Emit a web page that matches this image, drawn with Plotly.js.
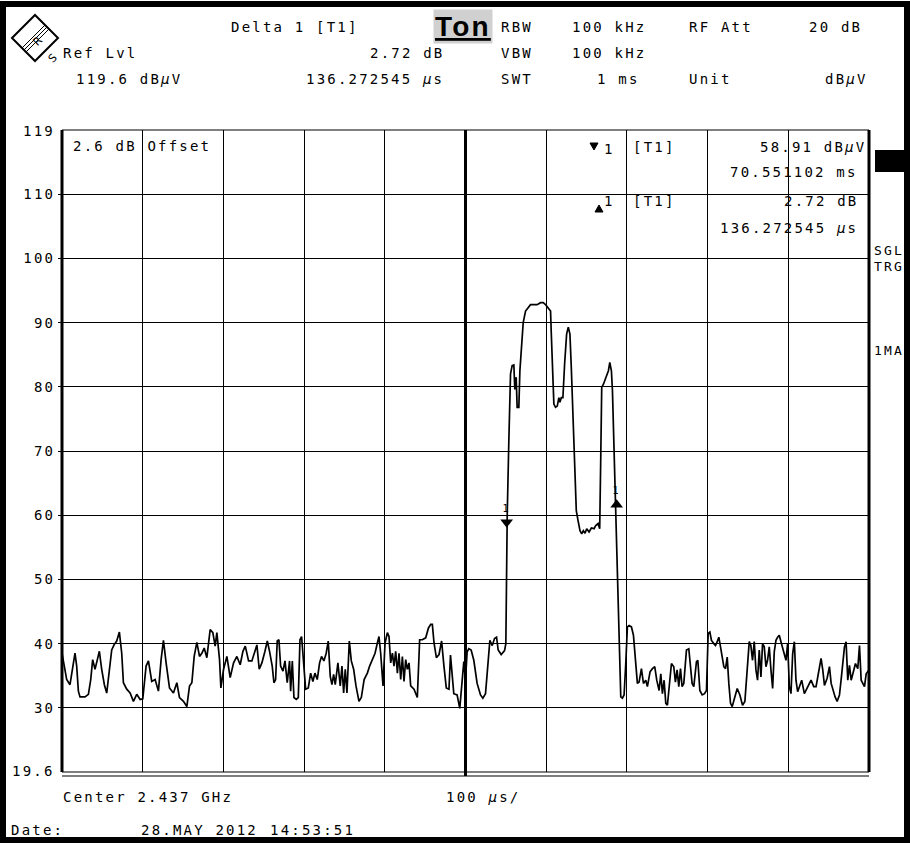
<!DOCTYPE html>
<html><head><meta charset="utf-8">
<script src="https://cdn.plot.ly/plotly-3.0.1.min.js"></script>
<style>
html,body{margin:0;padding:0;background:#fff;}
#chart{width:910px;height:843px;}
svg text{letter-spacing:2.2px;}
</style>
</head><body><div id="chart"></div>
<script>
// ---- data (time in microseconds, level in dBuV) ----
const timeUs = [0,5.8,9.9,14.1,16.1,18.2,20.3,22.3,28.5,32.7,35.6,38.0,40.9,43.8,46.3,49.2,52.5,55.4,58.7,61.6,64.5,67.8,71.1,74.0,76.1,80.2,84.4,88.5,92.6,96.8,100.1,104.2,107.1,111.2,115.4,119.5,122.8,125.7,129.0,133.2,138.1,142.3,145.6,150.5,154.7,158.0,160.9,163.8,167.1,170.4,173.3,176.2,179.5,183.6,186.9,189.8,191.9,195.2,196.9,200.2,204.3,208.4,212.6,216.7,220.8,224.2,227.1,231.2,235.3,239.5,241.5,244.4,247.7,
251.5,254.4,257.2,260.5,262.6,264.7,266.7,268.8,270.9,273.8,276.3,279.1,282.0,283.3,285.4,287.4,290.3,292.8,294.9,296.9,299.4,301.9,305.2,308.1,310.9,313.4,316.3,319.2,321.6,324.5,327.4,329.9,332.4,334.5,336.6,338.6,341.9,344.8,346.9,349.0,351.0,353.1,356.0,358.5,361.4,364.3,368.0,370.9,374.4,378.4,381.2,384.6,387.9,390.8,392.8,394.9,397.8,400.3,403.2,405.2,407.3,409.4,411.4,413.5,415.6,417.6,419.7,421.8,423.8,425.9,427.9,430.0,432.1,436.2,440.3,443.2,446.5,450.7,454.0,456.9,458.9,461.0,463.9,467.2,470.4,473.3,476.2,479.5,
481.4,485.5,489.6,492.9,495.8,497.9,500.0,502.0,504.1,507.0,510.3,514.4,518.6,521.5,524.8,527.7,530.2,533.1,536.0,538.5,540.5,544.2,548.4,550.0,
551.7,553.7,555.8,557.8,559.9,561.1,562.8,564.0,566.1,567.4,569.0,571.5,574.4,578.5,580.6,584.7,588.8,593.0,596.3,599.2,603.3,605.4,606.2,607.5,609.5,611.6,613.7,615.7,617.0,618.7,620.7,622.8,625.3,627.4,629.4,631.1,633.2,635.2,637.3,639.4,641.9,644.0,646.0,648.1,650.2,653.1,656.0,659.3,661.4,664.3,666.3,667.6,668.8,670.9,673.0,675.0,677.1,678.8,680.8,682.1,684.2,686.3,688.3,
690.3,692.4,694.4,696.5,698.6,700.6,702.7,705.6,708.1,711.0,713.0,715.1,718.0,720.5,723.4,725.4,728.7,731.6,734.5,737.0,739.9,742.0,744.0,746.1,748.2,750.2,752.3,755.2,758.1,760.1,762.2,764.3,766.4,768.4,770.5,773.8,776.7,778.8,780.8,782.9,786.2,787.9,790.4,793.3,796.2,798.6,800.7,802.8,804.8,807.7,809.8,811.9,813.9,816.0,818.1,820.1,822.2,824.3,826.3,828.4,830.5,833.4,836.7,840.0,843.3,846.2,849.5,851.6,853.6,855.7,857.8,859.9,861.9,864.0,866.1,868.1,870.2,872.3,874.3,876.4,878.5,880.6,882.6,884.7,886.8,888.8,890.9,893.0,897.1,899.2,901.3,903.3,905.4,907.5,909.5,911.6,913.7,916.6,919.9,922.0,924.9,928.2,931.5,934.4,936.5,938.6,940.6,942.7,944.8,948.1,951.0,953.1,956.4,958.0,960.5,963.4,965.4,967.5,969.6,971.6,973.7,975.8,977.9,981.2,983.2,986.1,988.2,990.3,992.3,994.4,996.5,1000];
const levelDb = [38.5,34.4,33.6,36.7,38.5,36.5,32.6,31.7,31.7,32.1,34.4,37.5,36,37.5,38.8,36,33.6,32.3,36,39,39.8,40.4,41.8,38.5,33.9,32.9,32.3,31,32.1,31.3,31.4,36.5,37.3,34.1,34.4,32.6,37.5,40.5,37,33.1,32.3,33.9,31.6,31,30.2,33.4,33.9,38,40.2,38,38.5,39.3,37.8,42.2,41.7,39.6,41.7,37.5,33.1,36,38,34.7,37,38,36.7,38.8,39.6,37.3,37.3,39.3,39.8,36,37,
38.8,40.4,38.8,36.5,33.9,34.4,40.4,40.6,36.5,35.7,37.3,33.9,37.3,32.6,37.3,31.6,31.3,31.6,40.6,41.1,37,32.9,33.1,35.4,34.1,35.4,34.4,37,38,37.3,38.5,40.4,34.9,33.6,35.2,33.6,37,33.4,36.5,32.3,36,32.3,40.4,37.3,36,33.4,31,31.6,34.4,35.4,36.5,37.5,38.5,40.1,41.1,38.5,33.4,40.1,41.7,41.1,37,38.5,36.5,38.8,35.4,38.5,34.4,38,34.1,37.5,36,37,33.4,32.9,31.6,40.6,40.6,40.9,42.4,43,43,40.1,37.8,38.3,40.4,36.5,33.1,32.9,
38.2,32.2,32,29.9,34.8,37.2,34.3,38.7,39.2,39,37.4,33.8,32,31.5,32.2,36.9,40.5,39.7,40.8,41,39,38.3,38.9,40,
60,71.6,82,83.3,83.4,79.6,81.5,76.8,76.8,82.5,86.1,90,91.8,92.6,92.8,92.8,92.8,93.1,93.1,92.8,92.1,91.8,88.7,84.6,77.3,76.8,77,78.3,77.6,78.3,78.3,83.5,88.2,89.3,88.2,83,74.2,66.9,60.7,59.2,57.6,57.1,57.6,57.2,57.9,57.4,58,57.9,58.4,58.7,57.9,69,79.9,80.4,81.2,81.7,82.5,83.8,82.5,79.4,70,60,52,
39.5,31.7,31.5,32,36.9,42.6,42.8,42.6,41.3,36.4,33.8,34,36.1,33.8,34.3,33.3,35.6,36.1,36.4,34.3,32.7,35.3,32.2,34.3,30.7,30.4,33,36.9,36.4,34,35.9,33.3,36.1,33.3,33.8,39,39.2,36.9,33.8,33.3,37.2,37.4,32.7,32,32.2,32.7,41.6,41.8,40.5,40,39.7,40.3,41,39.5,38.2,36.4,36.1,37.9,33.8,30.7,30.2,31.5,33,32,30.4,31,36.4,40.3,39.7,37.4,40.3,35.9,34.3,39,34.8,40,39.5,36.4,37.4,39.5,35.9,33,38.7,40.5,41,41.3,40.3,39.2,37.4,40,33.3,32.2,38.4,40.3,34.3,32.5,33.3,34.3,32.2,32.7,33.3,34.3,33.3,33.3,34.8,36.1,37.7,35.9,33.5,34.6,36.4,33.8,32.2,31.7,31,32,34.3,37.4,39.5,40.3,34.3,36.6,34.3,35.9,36.9,36.1,39.7,34.3,33.8,33.3,35.3,35.9];
const markerTimeUs = [551.0, 687.3];
const markerLevelDb = [58.91, 61.63];
const markerSymbols = ['triangle-down', 'triangle-up'];
const markerLabels = ['1', '1'];
const yTickVals = [30, 40, 50, 60, 70, 80, 90, 100, 110];
const yTickText = ['30', '40', '50', '60', '70', '80', '90', '100', '110'];

// ---- layout helpers: pixel -> paper ----
const L = 62, R = 869, T = 130, B = 772;
const PX = p => (p - L) / (R - L);
const PY = p => (B - p) / (B - T);
const MONO = 'DejaVu Sans Mono';
const f = (s) => ({family: MONO, size: s || 14, color: '#000'});

function ann(text, px, py, anchor, size) {
  return {text: text, xref: 'paper', yref: 'paper', x: PX(px), y: PY(py),
    xanchor: anchor || 'left', yanchor: 'middle', showarrow: false, font: f(size)};
}

const annotations = [
  // title
  {text: '<b><u>Ton</u></b>', xref: 'paper', yref: 'paper', x: PX(463), y: PY(27),
   xanchor: 'center', yanchor: 'middle', showarrow: false, bgcolor: '#d0d0d0',
   borderpad: 1, font: {family: 'Liberation Sans', size: 28, color: '#000'}},
  // header row 1
  ann('Delta 1 [T1]', 229, 27), ann('RBW', 499, 27), ann('100 kHz', 570, 27),
  ann('RF Att', 687, 27), ann('20 dB', 864, 27, 'right'),
  // header row 2
  ann('Ref Lvl', 61, 53), ann('2.72 dB', 446, 53, 'right'), ann('VBW', 499, 53), ann('100 kHz', 570, 53),
  // header row 3
  ann('119.6 dB<i>µ</i>V', 74, 79), ann('136.272545 <i>µ</i>s', 446, 79, 'right'), ann('SWT', 499, 79),
  ann('1 ms', 642, 79, 'right'), ann('Unit', 687, 79), ann('dB<i>µ</i>V', 870, 79, 'right'),
  // y extreme labels
  ann('119', 57, 131, 'right'), ann('19.6', 57, 771, 'right'),
  // inside plot
  ann('2.6 dB Offset', 71, 146),
  ann('1', 602, 149), ann('[T1]', 631, 147),
  ann('58.91 dB<i>µ</i>V', 868, 147, 'right'),
  ann('70.551102 ms', 860, 172, 'right'),
  ann('1', 602, 201), ann('[T1]', 631, 201), ann('2.72 dB', 860, 201, 'right'),
  ann('136.272545 <i>µ</i>s', 860, 228, 'right'),
  // right strip
  ann('SGL', 889, 250, 'center', 13), ann('TRG', 889, 266, 'center', 13), ann('1MA', 889, 350, 'center', 13),
  // bottom
  ann('Center 2.437 GHz', 61, 797), ann('100 <i>µ</i>s/', 444, 797),
  ann('Date:', 9, 830), ann('28.MAY 2012', 139, 830), ann('14:53:51', 268, 830)
];

const line = (x0, y0, x1, y1, w) => ({type: 'line', xref: 'paper', yref: 'paper',
  x0: x0, y0: y0, x1: x1, y1: y1, line: {color: '#000', width: w}});
const tri = (pts) => ({type: 'path', xref: 'paper', yref: 'paper',
  path: 'M ' + pts.map(p => PX(p[0]) + ' ' + PY(p[1])).join(' L ') + ' Z',
  line: {color: '#000', width: 1}, fillcolor: '#000'});

const shapes = [
  // outer frame
  {type: 'rect', xref: 'paper', yref: 'paper', x0: PX(3), x1: PX(907), y0: PY(840), y1: PY(4),
   line: {color: '#000', width: 6}},
  // plot frame
  line(0, 0, 0, 1, 3), line(1, 0, 1, 1, 3), line(0, 1, 1, 1, 1),
  line(0, 0, 1, 0, 1.2), line(0, PY(776), 1, PY(776), 1.2),
  // centre line
  {type: 'line', xref: 'x', yref: 'paper', x0: 500, x1: 500, y0: PY(776), y1: 1, line: {color: '#000', width: 3}},
  // marker table triangles
  tri([[590, 143], [598, 143], [594, 150]]),
  tri([[595, 212], [603, 212], [599, 205]]),
  // R&S logo
  {type: 'path', xref: 'paper', yref: 'paper',
   path: `M ${PX(12)} ${PY(38)} L ${PX(35)} ${PY(15)} L ${PX(58)} ${PY(38)} L ${PX(35)} ${PY(61)} Z`,
   line: {color: '#000', width: 2}, fillcolor: '#fff'},
  line(PX(22), PY(48), PX(45), PY(25), 1), line(PX(24), PY(50), PX(47), PY(27), 1),
  line(PX(26), PY(52), PX(49), PY(29), 1),
  // black box on the right
  {type: 'rect', xref: 'paper', yref: 'paper', x0: PX(875), x1: PX(905), y0: PY(172), y1: PY(150),
   line: {width: 0}, fillcolor: '#000'}
];
annotations.push({text: 'R', xref: 'paper', yref: 'paper', x: PX(28), y: PY(30), showarrow: false,
  textangle: -45, font: {family: 'DejaVu Sans', size: 11, color: '#000'}});
annotations.push({text: 'S', xref: 'paper', yref: 'paper', x: PX(43), y: PY(47), showarrow: false,
  textangle: -45, font: {family: 'DejaVu Sans', size: 11, color: '#000'}});

const traces = [
  {x: timeUs, y: levelDb, type: 'scatter', mode: 'lines',
   line: {color: '#000', width: 1.7}, hoverinfo: 'skip'},
  {x: markerTimeUs, y: markerLevelDb, type: 'scatter', mode: 'markers+text',
   text: markerLabels, textposition: 'top center', textfont: {family: MONO, size: 10, color: '#000'},
   marker: {symbol: markerSymbols, size: 11, color: '#000'}, hoverinfo: 'skip'}
];

const layout = {
  width: 910, height: 843,
  margin: {l: L, r: 910 - R, t: T, b: 843 - B, pad: 0},
  paper_bgcolor: '#fff', plot_bgcolor: '#fff',
  showlegend: false,
  xaxis: {range: [0, 1000], dtick: 100, tick0: 0, showgrid: true, gridcolor: '#000', gridwidth: 1,
    showticklabels: false, ticks: '', zeroline: false, showline: false},
  yaxis: {range: [20, 120], tickmode: 'array', tickvals: yTickVals, ticktext: yTickText,
    showgrid: true, gridcolor: '#000', gridwidth: 1, ticks: 'outside', ticklen: 3, tickcolor: '#000',
    tickfont: f(14), zeroline: false, showline: false},
  annotations: annotations,
  shapes: shapes
};

Plotly.newPlot('chart', traces, layout, {staticPlot: true});
</script>
</body></html>
